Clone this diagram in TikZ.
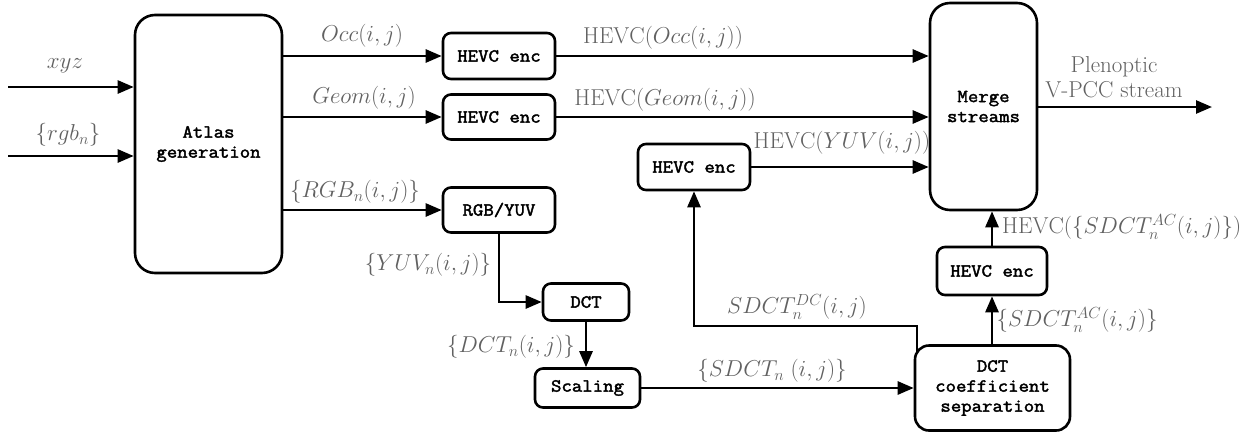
\RequirePackage{fix-cm}
\documentclass[tikz,border=0pt]{standalone}
\usepackage{fontspec}
\usetikzlibrary{arrows.meta}
\newfontfamily\boxfam{Latin Modern Mono}[FakeBold=2.2, FakeStretch=1.1]
\newcommand\boxfont{\boxfam\fontsize{18.4}{20}\selectfont}
\newcommand\lblfont{\fontsize{23}{25}\selectfont}
\pgfdeclarelayer{bg}
\pgfsetlayers{bg,main}
\tikzset{
  box/.style={draw, line width=2.6pt, rounded corners=8pt, fill=white, inner sep=0pt, font=\boxfont, align=center},
  bigbox/.style={box, rounded corners=20pt},
  lbl/.style={text=black!62, font=\lblfont, inner sep=0pt, align=center},
  arr/.style={line width=2.6pt, -{Triangle[length=16pt,width=13pt]}},
}
\begin{document}
\begin{tikzpicture}[x=1pt,y=-1pt]
\useasboundingbox (0,0) rectangle (1257,434);
% nodes
\node[bigbox, minimum width=147pt, minimum height=258pt] (atlas) at (208.5,144) {Atlas\\generation};
\node[box, minimum width=112pt, minimum height=46pt] (h1) at (499,56) {HEVC enc};
\node[box, minimum width=112pt, minimum height=45pt] (h2) at (499,117) {HEVC enc};
\node[box, minimum width=112pt, minimum height=45pt] (rgb) at (499,210) {RGB/YUV};
\node[box, minimum width=86pt, minimum height=37pt] (dct) at (586,302) {DCT};
\node[box, minimum width=105pt, minimum height=39pt] (sc) at (587.5,388) {Scaling};
\node[box, minimum width=155pt, minimum height=85pt, rounded corners=14pt] (cs) at (992.5,388) {DCT\\coefficient\\separation};
\node[box, minimum width=110pt, minimum height=48pt] (h4) at (992,271) {HEVC enc};
\node[box, minimum width=112pt, minimum height=46pt] (h3) at (694,167) {HEVC enc};
\node[bigbox, minimum width=107pt, minimum height=207pt] (merge) at (983.5,106.5) {Merge\\streams};
% free ends
\coordinate (in1) at (8,87);
\coordinate (in2) at (8,156);
\coordinate (out) at (1212,107);
\coordinate (dcturn) at (917,326);
% labels
\node[lbl] (lxyz) at (65,66) {$xyz$};
\node[lbl] (lrgb) at (68,135) {$\{rgb_n\}$};
\node[lbl] (locc) at (362,36) {$Occ(i,j)$};
\node[lbl] (lgeom) at (364,98) {$Geom(i,j)$};
\node[lbl] (lRGB) at (355,192) {$\{RGB_n(i,j)\}$};
\node[lbl] (lYUV) at (428,265) {$\{YUV_n(i,j)\}$};
\node[lbl] (lDCT) at (511,347) {$\{DCT_n(i,j)\}$};
\node[lbl] (lSDCT) at (772,371) {$\{SDCT_n\;(i,j)\}$};
\node[lbl] (lDC) at (797,307) {$SDCT_n^{DC}(i,j)$};
\node[lbl] (lAC) at (1077,320) {$\{SDCT_n^{AC}(i,j)\}$};
\node[lbl, anchor=west] (lhAC) at (1002,227) {$\mathrm{HEVC}(\{SDCT_n^{AC}(i,j)\})$};
\node[lbl] (lhocc) at (663,38) {$\mathrm{HEVC}(Occ(i,j))$};
\node[lbl] (lhgeom) at (665,100) {$\mathrm{HEVC}(Geom(i,j))$};
\node[lbl] (lhyuv) at (842,143) {$\mathrm{HEVC}(YUV(i,j))$};
\node[lbl] (lout) at (1114,77) {Plenoptic\\V-PCC stream};
% connectors
\begin{pgfonlayer}{bg}
\draw[arr] (in1) -- (in1 -| atlas.west);
\draw[arr] (in2) -- (in2 -| atlas.west);
\draw[arr] (atlas.east |- h1) -- (h1.west);
\draw[arr] (atlas.east |- h2) -- (h2.west);
\draw[arr] (atlas.east |- rgb) -- (rgb.west);
\draw[arr] (rgb.south) |- (dct.west);
\draw[arr] (dct.south) -- (dct.south |- sc.north);
\draw[arr] (sc.east) -- (sc.east -| cs.west);
\draw[arr] (cs.north -| h4) -- (h4.south);
\draw[arr] (h4.north) -- (h4.north |- merge.south);
\draw[arr] (dcturn |- cs.center) -- (dcturn) -| (h3.south);
\draw[arr] (h3.east) -- (h3.east -| merge.west);
\draw[arr] (h1.east) -- (h1.east -| merge.west);
\draw[arr] (h2.east) -- (h2.east -| merge.west);
\draw[arr] (merge.east |- out) -- (out);
\end{pgfonlayer}
\end{tikzpicture}
\end{document}
